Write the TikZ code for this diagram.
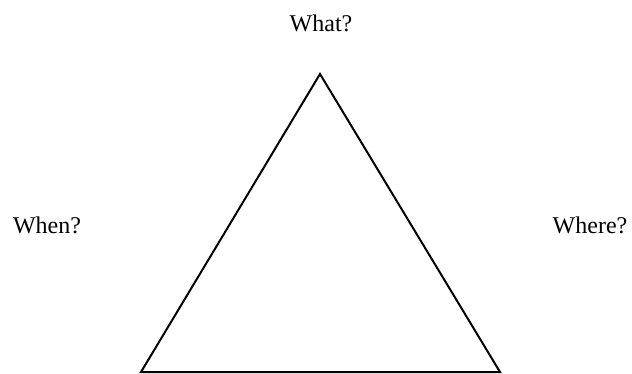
\documentclass[tikz,border=0pt]{standalone}
\usepackage{fontspec}
\setmainfont{Liberation Serif}
\begin{document}
\begin{tikzpicture}[x=1pt,y=-1pt,
  lbl/.style={inner sep=0pt,anchor=base,font=\fontsize{24}{28}\selectfont},
  tri/.style={draw=black,line width=2pt,line join=miter}]
\useasboundingbox (0,0) rectangle (632,374);
\coordinate (top) at (320,74);
\coordinate (bl) at (141,372);
\coordinate (br) at (500,372);
\draw[tri] (top) -- (bl) -- (br) -- cycle;
\node[lbl] (what) at (321,32) {What?};
\node[lbl] (when) at (47,234) {When?};
\node[lbl] (where) at (590,234) {Where?};
\end{tikzpicture}
\end{document}
